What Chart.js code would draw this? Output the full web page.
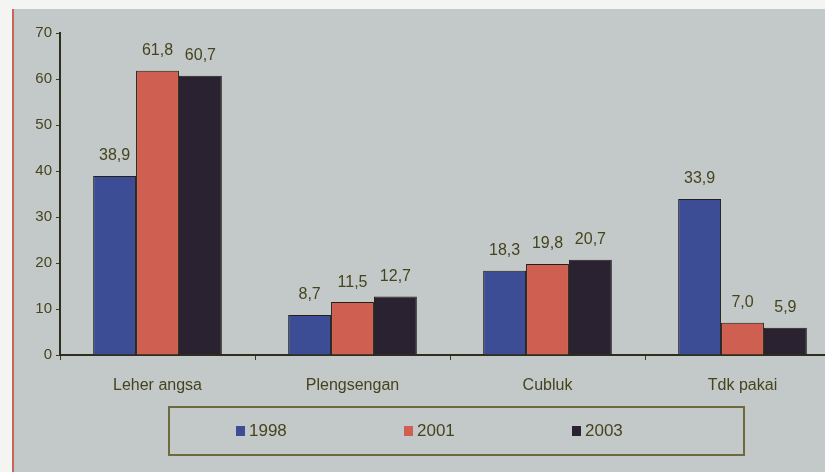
<!DOCTYPE html>
<html>
<head>
<meta charset="utf-8">
<script src="https://cdn.jsdelivr.net/npm/chart.js@4.4.1/dist/chart.umd.min.js"></script>
<style>
  html, body { margin: 0; padding: 0; }
  body {
    width: 825px; height: 472px; overflow: hidden; position: relative;
    background: #f4f4f2;
    font-family: "Liberation Sans Narrow", "Liberation Sans", Arial, sans-serif;
  }
  #papan {
    position: absolute; left: 12px; top: 9px; right: 0; bottom: 0;
    background: #c3c9c8;
    border-left: 2px solid #c9645a;
  }
  #wadah { position: absolute; left: 0; top: 0; width: 840px; height: 472px; }
  #legenda {
    position: absolute; left: 168px; top: 406px; width: 577px; height: 50px;
    border: 2px solid #6d6a3c; box-sizing: border-box;
    color: #45441f; font-size: 17px;
  }
  #legenda span { position: absolute; top: 13px; display: flex; align-items: center; }
  #legenda i { display: inline-block; width: 9px; height: 10px; margin-right: 4px; }
</style>
</head>
<body>
<div id="papan"></div>
<div id="wadah"><canvas id="grafik" width="840" height="472"></canvas></div>
<div id="legenda"></div>

<script>
// data
const kategori = ["Leher angsa", "Plengsengan", "Cubluk", "Tdk pakai"];
const tahun = ["1998", "2001", "2003"];
const nilai1998 = [38.9, 8.7, 18.3, 33.9];
const nilai2001 = [61.8, 11.5, 19.8, 7.0];
const nilai2003 = [60.7, 12.7, 20.7, 5.9];
const labelSumbuY = [0, 10, 20, 30, 40, 50, 60, 70];

const warnaBatang = ["#3c4d96", "#cf5f50", "#2a2231"];
const warnaTeks = "#45441f";

/**
 * Label nilai di atas batang (pakai koma desimal)
 */
const labelNilai = {
    id: "labelNilai",
    afterDatasetsDraw(chart) {
        const ctx = chart.ctx;
        ctx.save();
        ctx.font = "16px 'Liberation Sans Narrow', Arial";
        ctx.fillStyle = warnaTeks;
        ctx.textAlign = "center";
        ctx.textBaseline = "bottom";
        chart.data.datasets.forEach((ds, i) => {
            chart.getDatasetMeta(i).data.forEach((bar, j) => {
                const teks = ds.data[j].toFixed(1).replace(".", ",");
                ctx.fillText(teks, bar.x, bar.y - 12);
            });
        });
        ctx.restore();
    },
};

const grafik = new Chart(document.getElementById("grafik"), {
    type: "bar",
    data: {
        labels: kategori,
        datasets: [nilai1998, nilai2001, nilai2003].map((d, i) => ({
            label: tahun[i],
            data: d,
            backgroundColor: warnaBatang[i],
            borderColor: "#222018",
            borderWidth: 1,
            barPercentage: 1,
            categoryPercentage: 0.66,
        })),
    },
    options: {
        responsive: false,
        animation: false,
        layout: { padding: { left: 12, top: 33, right: 0, bottom: 0 } },
        plugins: { legend: { display: false }, tooltip: { enabled: false } },
        scales: {
            x: {
                afterFit: (s) => { s.height = 117; },
                grid: { drawOnChartArea: false, drawTicks: true, tickLength: 5, color: "#3a3a22" },
                border: { color: "#2e2e1c", width: 2 },
                ticks: { color: warnaTeks, font: { size: 16, family: "'Liberation Sans Narrow', Arial" }, padding: 16 },
            },
            y: {
                min: 0,
                max: 70,
                afterFit: (s) => { s.width = 48; },
                afterBuildTicks: (s) => { s.ticks = labelSumbuY.map((v) => ({ value: v })); },
                grid: { drawOnChartArea: false, drawTicks: true, tickLength: 4, color: "#3a3a22" },
                border: { color: "#2e2e1c", width: 2 },
                ticks: { color: warnaTeks, font: { size: 15, family: "'Liberation Sans Narrow', Arial" }, padding: 4 },
            },
        },
    },
    plugins: [labelNilai],
});

// legenda manual di dalam kotak
const legenda = document.getElementById("legenda");
const posisiLegenda = [66, 234, 402];
tahun.forEach((t, i) => {
    const el = document.createElement("span");
    el.style.left = posisiLegenda[i] + "px";
    el.innerHTML = `<i style="background:${warnaBatang[i]}"></i>${t}`;
    legenda.appendChild(el);
});
</script>
</body>
</html>
